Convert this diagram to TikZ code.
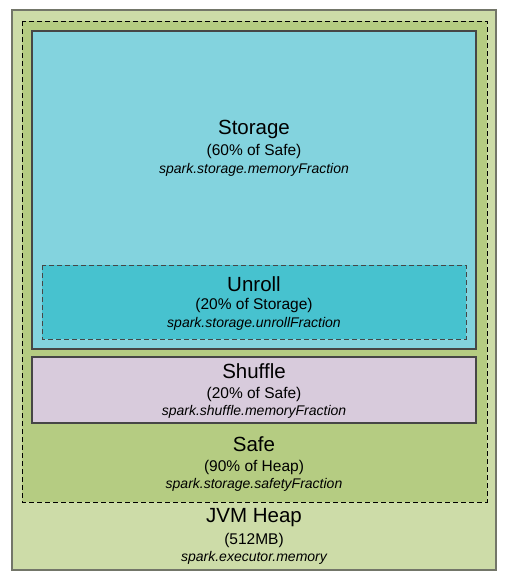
\documentclass[tikz,border=0pt]{standalone}
\usepackage{fontspec}
\setmainfont{Liberation Sans}
\definecolor{heapgreen}{RGB}{205,220,168}
\definecolor{safegreen}{RGB}{181,204,130}
\definecolor{storageblue}{RGB}{131,211,222}
\definecolor{unrollblue}{RGB}{71,194,207}
\definecolor{shufflepink}{RGB}{216,203,220}
\definecolor{heapline}{RGB}{115,118,105}
\definecolor{boxline}{RGB}{70,70,70}
\begin{document}
\begin{tikzpicture}[x=1pt,y=1pt]
\tikzstyle{every node}+=[inner sep=0pt]
\tikzstyle{title}=[font=\fontsize{20.5}{22}\selectfont]
\tikzstyle{share}=[font=\fontsize{15.5}{17}\selectfont]
\tikzstyle{param}=[font=\fontsize{14}{16}\selectfont\itshape]
\tikzstyle{dashline}=[dash pattern=on 5pt off 3pt]
\useasboundingbox (0,0) rectangle (508,-578);
\draw [heapline, fill=heapgreen, line width=1.4] (12,-10) rectangle (496,-570);
\draw [black, fill=safegreen, dashline, line width=0.9] (22,-21) rectangle (487,-502);
\draw [boxline, fill=storageblue, line width=1.2] (32,-31) rectangle (476,-349);
\draw [boxline, fill=unrollblue, dashline, line width=0.9] (42,-265) rectangle (466,-339);
\draw [boxline, fill=shufflepink, line width=1.2] (32,-357) rectangle (476,-423);
\node [title] (storage) at (254,-129) {Storage};
\node [share] (storage share) at (254,-151) {(60\% of Safe)};
\node [param] (storage param) at (254,-170) {spark.storage.memoryFraction};
\node [title] (unroll) at (254,-284) {Unroll};
\node [share] (unroll share) at (254,-305) {(20\% of Storage)};
\node [param] (unroll param) at (254,-324) {spark.storage.unrollFraction};
\node [title] (shuffle) at (254,-371) {Shuffle};
\node [share] (shuffle share) at (254,-394) {(20\% of Safe)};
\node [param] (shuffle param) at (254,-412) {spark.shuffle.memoryFraction};
\node [title] (safe) at (254,-444) {Safe};
\node [share] (safe share) at (254,-467) {(90\% of Heap)};
\node [param] (safe param) at (254,-485) {spark.storage.safetyFraction};
\node [title] (heap) at (254,-518) {JVM Heap};
\node [share] (heap share) at (254,-540) {(512MB)};
\node [param] (heap param) at (254,-558) {spark.executor.memory};
\end{tikzpicture}
\end{document}
